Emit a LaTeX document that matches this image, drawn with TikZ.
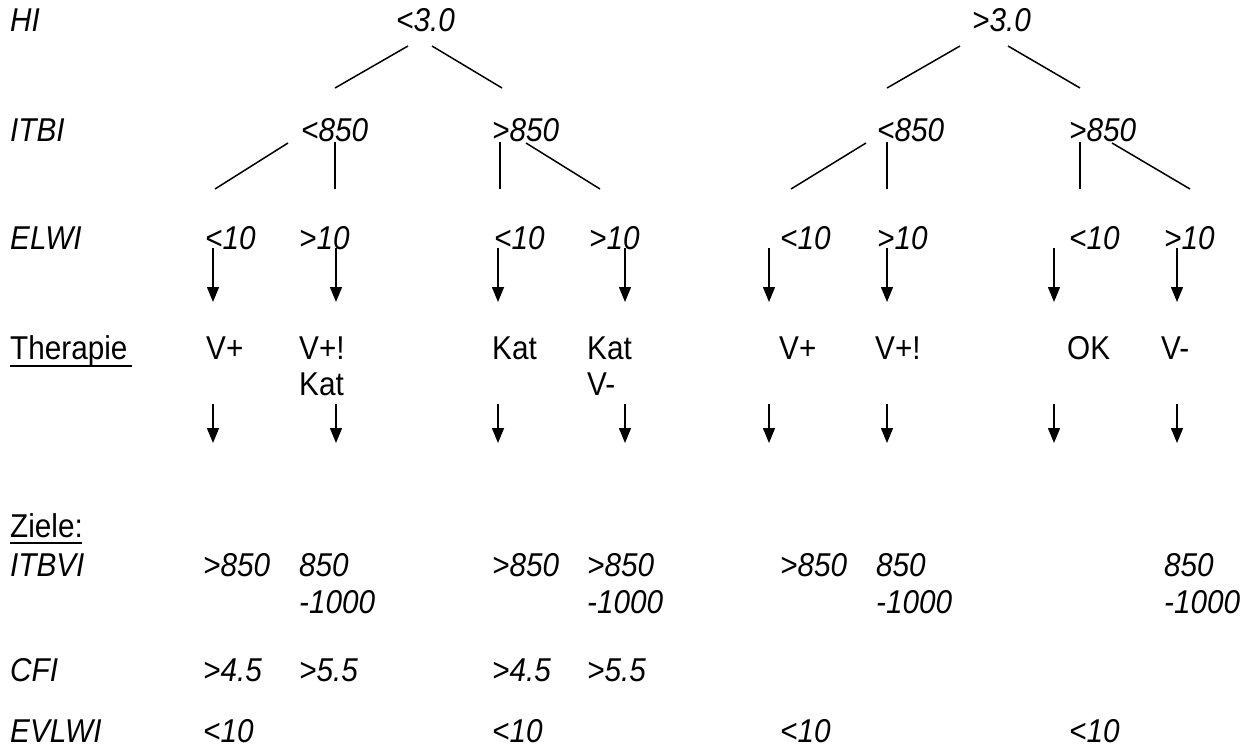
\documentclass[tikz,border=0pt]{standalone}
\usepackage{fontspec}
\setmainfont{Liberation Sans}[FakeStretch=0.9]
\usetikzlibrary{arrows.meta}
\begin{document}
\begin{tikzpicture}[x=1pt,y=-1pt,
  it/.style={anchor=base west,inner sep=0pt,font=\fontsize{33}{38}\selectfont\itshape},
  up/.style={anchor=base west,inner sep=0pt,font=\fontsize{33}{38}\selectfont},
  tree/.style={line width=1.5pt},
  arr/.style={line width=1.5pt,-{Triangle[width=12pt,length=15pt]}},
  uline/.style={line width=2.2pt}]
\useasboundingbox (0,0) rectangle (1252,749);
% left column
\node[it] (hi) at (10,32) {HI};
\node[it] (itbi) at (10,141) {ITBI};
\node[it] (elwi) at (10,249) {ELWI};
\node[up] (ther) at (10,359) {Therapie};
\node[up] (ziele) at (10,537) {Ziele:};
\node[it] (itbvi) at (10,576) {ITBVI};
\node[it] (cfi) at (10,681) {CFI};
\node[it] (evlwi) at (10,742) {EVLWI};
\coordinate (u1a) at (10,366); \coordinate (u1b) at (132,366);
\draw[uline] (u1a) -- (u1b);
\coordinate (u2a) at (10,543); \coordinate (u2b) at (82,543);
\draw[uline] (u2a) -- (u2b);
% HI level
\node[it] (h1) at (396,32) {<3.0};
\node[it] (h2) at (972,32) {>3.0};
% ITBI level
\node[it] (i1) at (301,141) {<850};
\node[it] (i2) at (492,141) {>850};
\node[it] (i3) at (877,141) {<850};
\node[it] (i4) at (1069,141) {>850};
% ELWI level
\node[it] (e1) at (205,249) {<10};
\node[it] (e2) at (299,249) {>10};
\node[it] (e3) at (494,249) {<10};
\node[it] (e4) at (589,249) {>10};
\node[it] (e5) at (780,249) {<10};
\node[it] (e6) at (877,249) {>10};
\node[it] (e7) at (1069,249) {<10};
\node[it] (e8) at (1164,249) {>10};
% Therapie
\node[up] (t1) at (206,359) {V+};
\node[up] (t2) at (299,359) {V+!};
\node[up] (t2b) at (299,395) {Kat};
\node[up] (t3) at (492,359) {Kat};
\node[up] (t4) at (587,359) {Kat};
\node[up] (t4b) at (587,395) {V-};
\node[up] (t5) at (779,359) {V+};
\node[up] (t6) at (875,359) {V+!};
\node[up] (t7) at (1067,359) {OK};
\node[up] (t8) at (1161,359) {V-};
% ITBVI targets
\node[it] (z1) at (203,576) {>850};
\node[it] (z2) at (299,576) {850};
\node[it] (z2b) at (299,613) {-1000};
\node[it] (z3) at (492,576) {>850};
\node[it] (z4) at (587,576) {>850};
\node[it] (z4b) at (587,613) {-1000};
\node[it] (z5) at (780,576) {>850};
\node[it] (z6) at (876,576) {850};
\node[it] (z6b) at (876,613) {-1000};
\node[it] (z8) at (1164,576) {850};
\node[it] (z8b) at (1164,613) {-1000};
% CFI
\node[it] (c1) at (203,681) {>4.5};
\node[it] (c2) at (299,681) {>5.5};
\node[it] (c3) at (492,681) {>4.5};
\node[it] (c4) at (587,681) {>5.5};
% EVLWI
\node[it] (v1) at (203,742) {<10};
\node[it] (v3) at (492,742) {<10};
\node[it] (v5) at (780,742) {<10};
\node[it] (v7) at (1069,742) {<10};
% tree lines top
\coordinate (la1) at (408,46); \coordinate (la2) at (335,88);
\coordinate (lb1) at (432,46); \coordinate (lb2) at (502,88);
\coordinate (lc1) at (960,46); \coordinate (lc2) at (887,88);
\coordinate (ld1) at (1008,46); \coordinate (ld2) at (1080,88);
\draw[tree] (la1) -- (la2) (lb1) -- (lb2) (lc1) -- (lc2) (ld1) -- (ld2);
% tree lines second level
\coordinate (m1a) at (288,143); \coordinate (m1b) at (215,189);
\coordinate (m2a) at (335,142); \coordinate (m2b) at (335,189);
\coordinate (m3a) at (500,142); \coordinate (m3b) at (500,189);
\coordinate (m4a) at (526,143); \coordinate (m4b) at (600,189);
\coordinate (m5a) at (866,143); \coordinate (m5b) at (791,189);
\coordinate (m6a) at (887,142); \coordinate (m6b) at (887,189);
\coordinate (m7a) at (1080,142); \coordinate (m7b) at (1080,189);
\coordinate (m8a) at (1112,143); \coordinate (m8b) at (1190,189);
\foreach \k in {1,...,8}{\draw[tree] (m\k a) -- (m\k b);}
% arrows
\foreach \k/\x in {1/213,2/336,3/498,4/625,5/769,6/887,7/1054,8/1177}{
  \coordinate (p\k a) at (\x,248); \coordinate (p\k b) at (\x,302);
  \coordinate (q\k a) at (\x,404); \coordinate (q\k b) at (\x,443);
  \draw[arr] (p\k a) -- (p\k b);
  \draw[arr] (q\k a) -- (q\k b);
}
\end{tikzpicture}
\end{document}
